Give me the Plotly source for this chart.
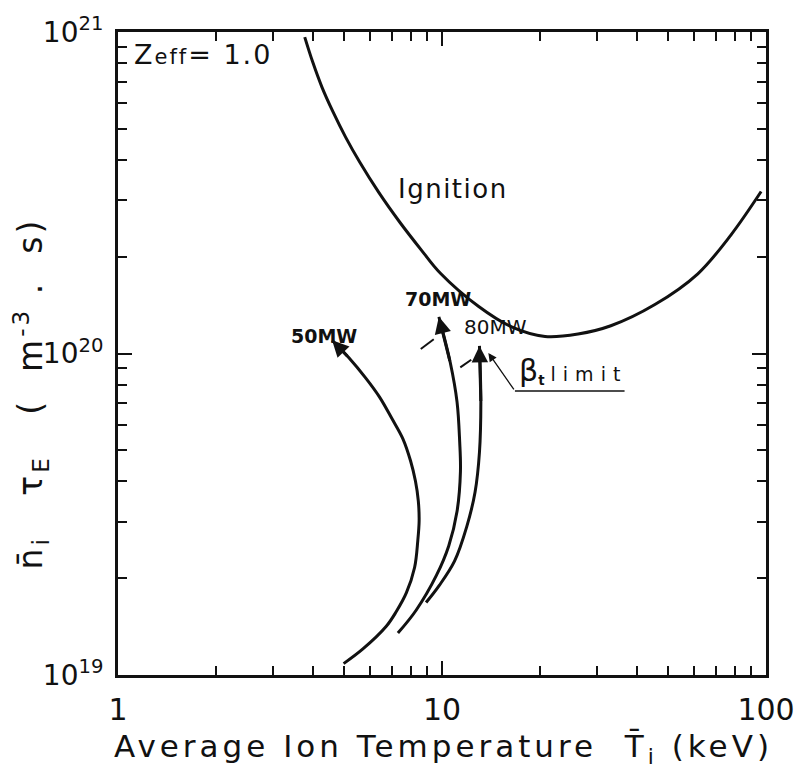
import math
import plotly.graph_objects as go

# Ignition boundary: average ion temperature (keV) vs n_i*tau_E (m^-3 s)
ign_T = [3.77, 3.99, 4.26, 4.61, 5.04, 5.57, 6.38, 7.41, 8.66, 9.87, 12.98, 16.4, 20.8, 26.3,
         33.2, 45.4, 61.6, 78.0, 96.6]
ign_n = [9.64e20, 8.06e20, 6.74e20, 5.64e20, 4.71e20, 3.94e20, 3.17e20, 2.56e20, 2.09e20,
         1.78e20, 1.40e20, 1.21e20, 1.13e20, 1.15e20, 1.22e20, 1.42e20, 1.77e20, 2.34e20, 3.19e20]

# Operating paths for each heating power (listed from start to arrow tip)
p50_T = [4.97, 5.70, 6.72, 7.22, 7.76, 8.23, 8.42, 8.50, 8.45, 8.28, 8.00, 7.58, 6.99,
         6.41, 5.81, 5.16, 4.58]
p50_n = [1.085e19, 1.205e19, 1.415e19, 1.573e19, 1.80e19, 2.16e19, 2.62e19, 3.02e19,
         3.48e19, 4.01e19, 4.63e19, 5.42e19, 6.30e19, 7.33e19, 8.40e19, 9.70e19, 1.10e20]

p70_T = [7.31, 8.32, 9.61, 10.49, 11.13, 11.40, 11.34, 11.13, 10.6, 9.78]
p70_n = [1.35e19, 1.59e19, 2.04e19, 2.52e19, 3.23e19, 4.29e19, 5.31e19, 7.06e19, 9.39e19, 1.30e20]

p80_T = [8.93, 9.81, 10.93, 11.93, 12.65, 13.05, 13.18, 13.05]
p80_n = [1.68e19, 1.90e19, 2.26e19, 2.90e19, 3.71e19, 4.93e19, 7.04e19, 1.056e20]

# Beta-limit markers crossing the 70 MW and 80 MW paths
beta_dash1_T = [8.60, 9.43]
beta_dash1_n = [1.033e20, 1.108e20]
beta_dash2_T = [11.39, 12.31]
beta_dash2_n = [9.05e19, 9.56e19]

# Leader from the beta-limit label to the 80 MW path, and label underline
beta_lead_T = [16.79, 13.9]
beta_lead_n = [7.65e19, 1.004e20]
beta_under_T = [16.79, 36.6]
beta_under_n = [7.65e19, 7.65e19]

x_tickvals = [1, 10, 100]
x_ticktext = ["1", "10", "100"]
x_minorvals = [2, 3, 4, 5, 6, 7, 8, 9, 20, 30, 40, 50, 60, 70, 80, 90]
y_tickvals = [1e19, 1e20, 1e21]
y_ticktext = ["10<sup>19</sup>", "10<sup>20</sup>", "10<sup>21</sup>"]
y_minorvals = [2e19, 3e19, 4e19, 5e19, 6e19, 7e19, 8e19, 9e19,
               2e20, 3e20, 4e20, 5e20, 6e20, 7e20, 8e20, 9e20]

FONT = "DejaVu Sans"
INK = "#111111"
NB = "\u00a0"

fig = go.Figure()

line_style = dict(color=INK, width=3, shape="spline", smoothing=1.0)
for T, n in [(ign_T, ign_n), (p50_T, p50_n), (p70_T, p70_n), (p80_T, p80_n)]:
    fig.add_trace(go.Scatter(x=T, y=n, mode="lines", line=line_style,
                             hoverinfo="skip", showlegend=False))

for T, n in [(beta_dash1_T, beta_dash1_n), (beta_dash2_T, beta_dash2_n)]:
    fig.add_trace(go.Scatter(x=T, y=n, mode="lines", line=dict(color=INK, width=2),
                             hoverinfo="skip", showlegend=False))

fig.add_trace(go.Scatter(x=beta_under_T, y=beta_under_n, mode="lines",
                         line=dict(color=INK, width=1.5), hoverinfo="skip", showlegend=False))

annotations = []

# Arrow heads at the end of each power path
for T, n in [(p50_T, p50_n), (p70_T, p70_n), (p80_T, p80_n)]:
    annotations.append(dict(
        x=math.log10(T[-1]), y=math.log10(n[-1]),
        ax=math.log10(T[-2]), ay=math.log10(n[-2]),
        xref="x", yref="y", axref="x", ayref="y",
        showarrow=True, arrowhead=2, arrowsize=1.1, arrowwidth=3,
        arrowcolor=INK, standoff=0, text=""))

# Leader arrow for the beta-limit label
annotations.append(dict(
    x=math.log10(beta_lead_T[1]), y=math.log10(beta_lead_n[1]),
    ax=math.log10(beta_lead_T[0]), ay=math.log10(beta_lead_n[0]),
    xref="x", yref="y", axref="x", ayref="y",
    showarrow=True, arrowhead=2, arrowsize=1.3, arrowwidth=1.3,
    arrowcolor=INK, standoff=0, text=""))

def label(text, lx, ly, size, xanchor="center", yanchor="middle"):
    annotations.append(dict(x=lx, y=ly, xref="x", yref="y", text=text,
                            showarrow=False, xanchor=xanchor, yanchor=yanchor,
                            font=dict(family=FONT, size=size, color=INK)))

label("<span style='letter-spacing:2px'>Z<span style='font-size:21px'>eff</span>=" + NB + "1.0</span>",
      0.043, 20.929, 27, xanchor="left")
label("<span style='letter-spacing:1.5px'>Ignition</span>", 1.035, 20.512, 26)
label("<b>50MW</b>", 0.636, 20.056, 19)
label("<b>70MW</b>", 0.989, 20.170, 19)
label("80MW", 1.165, 20.082, 20)
label("<span style='font-size:30px'>β</span><sub><b>t</b></sub>" + NB
      + "<span style='letter-spacing:7px'>limit</span>",
      1.232, 19.948, 19, xanchor="left")

# Axis titles placed as plain/rotated annotations in paper space
annotations.append(dict(
    xref="paper", yref="paper", x=0.502, y=-0.114, xanchor="center", yanchor="middle",
    showarrow=False,
    text="<span style='letter-spacing:4px'>Average" + NB + "Ion" + NB + "Temperature"
         + NB * 2 + "T\u0304<sub>i</sub>" + NB + "(keV)</span>",
    font=dict(family=FONT, size=31, color=INK)))
annotations.append(dict(
    xref="paper", yref="paper", x=-0.135, y=0.437, xanchor="center", yanchor="middle",
    showarrow=False, textangle=-90,
    text="<span style='letter-spacing:3px'>n\u0304<sub>i</sub>" + NB * 3 + "τ<sub>E</sub>"
         + NB * 3 + "(" + NB * 2 + "m<sup>-3</sup>" + NB + "." + NB * 2 + "s)</span>",
    font=dict(family=FONT, size=33, color=INK)))

fig.update_layout(
    width=807, height=775,
    margin=dict(l=118, r=38, t=27, b=100),
    paper_bgcolor="white", plot_bgcolor="white",
    font=dict(family=FONT, color=INK),
    annotations=annotations,
    showlegend=False,
    hovermode=False,
)

fig.update_xaxes(
    type="log", range=[0, 2],
    tickvals=x_tickvals, ticktext=x_ticktext,
    ticks="inside", ticklen=14, tickwidth=2, tickcolor=INK,
    minor=dict(tickmode="array", tickvals=x_minorvals, ticks="inside", ticklen=9,
               tickwidth=1.5, tickcolor=INK, showgrid=False),
    showline=True, linewidth=3, linecolor=INK, mirror="ticks",
    showgrid=False, zeroline=False,
    tickfont=dict(family=FONT, size=30, color=INK),
    ticklabelstandoff=6,
)

fig.update_yaxes(
    type="log", range=[19, 21],
    tickvals=y_tickvals, ticktext=y_ticktext,
    ticks="inside", ticklen=14, tickwidth=2, tickcolor=INK,
    minor=dict(tickmode="array", tickvals=y_minorvals, ticks="inside", ticklen=9,
               tickwidth=1.5, tickcolor=INK, showgrid=False),
    showline=True, linewidth=3, linecolor=INK, mirror="ticks",
    showgrid=False, zeroline=False,
    tickfont=dict(family=FONT, size=28, color=INK),
    ticklabelstandoff=6,
)

fig.write_html("out.html")
